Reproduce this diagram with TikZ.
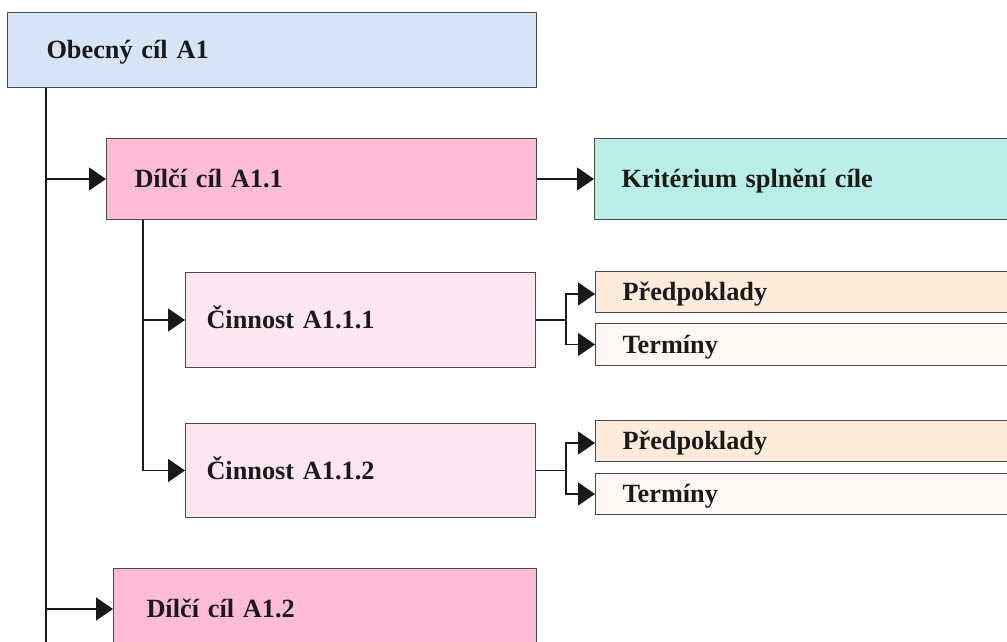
\documentclass[tikz,border=0pt]{standalone}
\usepackage{fontspec}
\setmainfont[WordSpace=0.8]{Liberation Serif}
\usetikzlibrary{arrows.meta}
\definecolor{cBlue}{HTML}{D6E4F6}
\definecolor{cPink}{HTML}{FFBCD7}
\definecolor{cTeal}{HTML}{B8EEE6}
\definecolor{cLPink}{HTML}{FDE5F1}
\definecolor{cPeach}{HTML}{FDEBDC}
\definecolor{cCream}{HTML}{FEF7F3}
\definecolor{boxline}{HTML}{4A4A4A}
\definecolor{txt}{HTML}{1A1A1A}
\begin{document}
\begin{tikzpicture}[x=1pt,y=-1pt,
  box/.style={draw=boxline, line width=1pt, anchor=north west, inner ysep=0pt,
    align=left, font=\fontsize{26.3}{30}\selectfont\bfseries, text=txt,
    text height=21pt, text depth=4pt},
  conn/.style={line width=1.5pt, draw=txt, -{Triangle[length=17pt,width=23pt]}},
  plain/.style={line width=1.5pt, draw=txt}]
\useasboundingbox (0,0) rectangle (1007,642);
\clip (0,0) rectangle (1007,642);

\node[box, fill=cBlue, minimum height=75pt, inner xsep=39pt, text width=451pt] (A1) at (7,12) {Obecný cíl A1};
\node[box, fill=cPink, minimum height=81pt, inner xsep=28pt, text width=374pt] (A11) at (106,138) {Dílčí cíl A1.1};
\node[box, fill=cTeal, minimum height=81pt, inner xsep=27pt, text width=366pt] (K) at (594,138) {Kritérium splnění cíle};
\node[box, fill=cLPink, minimum height=95pt, inner xsep=21pt, text width=308pt] (C1) at (185,272) {Činnost A1.1.1};
\node[box, fill=cLPink, minimum height=94pt, inner xsep=21pt, text width=308pt] (C2) at (185,423) {Činnost A1.1.2};
\node[box, fill=cPeach, minimum height=41pt, inner xsep=27pt, text width=366pt] (P1) at (595,271) {Předpoklady};
\node[box, fill=cCream, minimum height=42pt, inner xsep=27pt, text width=366pt] (T1) at (595,323) {Termíny};
\node[box, fill=cPeach, minimum height=41pt, inner xsep=27pt, text width=366pt] (P2) at (595,420) {Předpoklady};
\node[box, fill=cCream, minimum height=41pt, inner xsep=27pt, text width=366pt] (T2) at (595,473) {Termíny};
\node[box, fill=cPink, minimum height=81pt, inner xsep=33pt, text width=357pt] (A12) at (113,568) {Dílčí cíl A1.2};

% main trunk
\coordinate (t0) at ([xshift=39pt]A1.south west);
\coordinate (t0end) at ([yshift=-20pt]t0 |- A12.south);
\draw[plain] (t0) -- (t0end);
\draw[conn] (A11.west -| t0) -- (A11.west);
\draw[conn] (A12.west -| t0) -- (A12.west);

% A1.1 -> criterion
\draw[conn] (A11.east) -- (K.west);

% second trunk
\coordinate (t1) at ([xshift=37pt]A11.south west);
\draw[conn] (t1) |- (C2.west);
\draw[conn] (C1.west -| t1) -- (C1.west);

% forks
\draw[plain] (C1.east) -- ++(30,0) coordinate (f1);
\draw[conn] (f1) |- ([yshift=-2pt]P1.west);
\draw[conn] (f1) |- (T1.west);
\draw[plain] (C2.east) -- ++(30,0) coordinate (f2);
\draw[conn] (f2) |- ([yshift=-2pt]P2.west);
\draw[conn] (f2) |- (T2.west);
\end{tikzpicture}
\end{document}
